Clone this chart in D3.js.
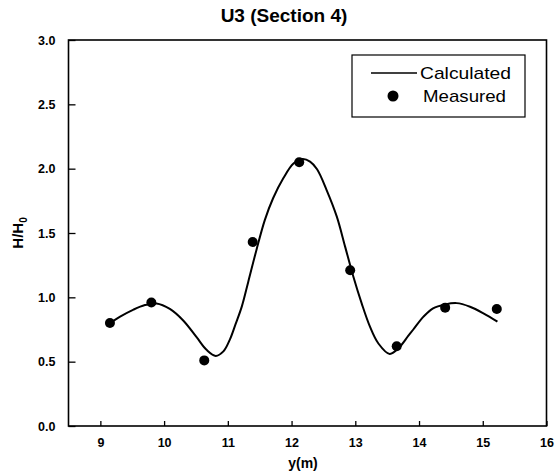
<!DOCTYPE html>
<html>
<head>
<meta charset="utf-8">
<script src="https://cdn.jsdelivr.net/npm/d3@7"></script>
<style>
  body { margin: 0; background: #fff; }
  svg { font-family: "Liberation Sans", Arial, sans-serif; }
</style>
</head>
<body>
<div id="chart"></div>
<script>
// measured points
const measX = [9.15, 9.8, 10.63, 11.39, 12.12, 12.92, 13.65, 14.41, 15.22];
const measY = [0.80, 0.96, 0.51, 1.43, 2.05, 1.21, 0.62, 0.92, 0.91];

// calculated curve
const calcX = [9.15, 9.31, 9.52, 9.70, 9.88, 10.09, 10.30, 10.51, 10.67, 10.81, 10.93, 11.03, 11.12,
  11.22, 11.32, 11.45, 11.58, 11.71, 11.87, 12.03, 12.17, 12.29, 12.40, 12.55, 12.71, 12.84, 12.97,
  13.10, 13.23, 13.36, 13.54, 13.70, 13.83, 13.91, 14.07, 14.22, 14.41, 14.59, 14.80, 15.01, 15.23];
const calcY = [0.80, 0.85, 0.905, 0.94, 0.952, 0.91, 0.82, 0.69, 0.59, 0.545, 0.58, 0.67, 0.79,
  0.93, 1.12, 1.37, 1.60, 1.77, 1.925, 2.04, 2.075, 2.055, 1.995, 1.834, 1.627, 1.394, 1.16,
  0.953, 0.772, 0.643, 0.56, 0.617, 0.70, 0.75, 0.85, 0.915, 0.945, 0.955, 0.927, 0.876, 0.811];

const xTicks = [9, 10, 11, 12, 13, 14, 15, 16];
const yTicks = [0.0, 0.5, 1.0, 1.5, 2.0, 2.5, 3.0];

const width = 557, height = 476;
const margin = { top: 40, right: 10.5, bottom: 50, left: 68.5 };

const svg = d3.select("#chart")
  .append("svg")
  .attr("width", width)
  .attr("height", height);

const x = d3.scaleLinear().domain([8.5, 16]).range([margin.left, width - margin.right]);
const y = d3.scaleLinear().domain([0, 3]).range([height - margin.bottom, margin.top]);

//frame
svg.append("rect")
  .attr("x", x(8.5))
  .attr("y", y(3))
  .attr("width", x(16) - x(8.5))
  .attr("height", y(0) - y(3))
  .attr("fill", "none")
  .attr("stroke", "#000")
  .attr("stroke-width", 1.6);

//axes
const xAxis = svg.append("g")
  .attr("transform", `translate(0,${y(0)})`)
  .call(d3.axisBottom(x).tickValues(xTicks).tickSize(-5).tickPadding(12).tickFormat(d3.format("d")));

const yAxis = svg.append("g")
  .attr("transform", `translate(${x(8.5)},0)`)
  .call(d3.axisLeft(y).tickValues(yTicks).tickSize(-7).tickPadding(13).tickFormat(d3.format(".1f")));

[xAxis, yAxis].forEach((g) => {
  g.select(".domain").remove();
  g.selectAll("line").attr("stroke", "#000").attr("stroke-width", 1.3);
  g.selectAll("text")
    .attr("fill", "#000")
    .style("font-size", "12.5px")
    .style("font-weight", "bold")
    .style("font-family", "'Liberation Sans', Arial, sans-serif");
});

//title + labels
svg.append("text")
  .attr("x", 284)
  .attr("y", 22)
  .attr("text-anchor", "middle")
  .style("font-size", "19px")
  .style("font-weight", "bold")
  .text("U3 (Section 4)");

svg.append("text")
  .attr("x", 303)
  .attr("y", 468)
  .attr("text-anchor", "middle")
  .style("font-size", "14px")
  .style("font-weight", "bold")
  .text("y(m)");

const yt = svg.append("text")
  .attr("transform", `translate(23,${(y(0) + y(3)) / 2}) rotate(-90)`)
  .attr("text-anchor", "middle")
  .style("font-size", "15px")
  .style("font-weight", "bold");
yt.append("tspan").text("H/H");
yt.append("tspan").attr("dy", 4).style("font-size", "10px").text("0");

//calculated line
const calc = calcX.map((d, i) => ({ x: d, y: calcY[i] }));
svg.append("path")
  .datum(calc)
  .attr("fill", "none")
  .attr("stroke", "#000")
  .attr("stroke-width", 2)
  .attr("d", d3.line().curve(d3.curveCatmullRom).x((d) => x(d.x)).y((d) => y(d.y)));

//measured dots
svg.append("g")
  .selectAll("circle")
  .data(measX.map((d, i) => ({ x: d, y: measY[i] })))
  .join("circle")
  .attr("cx", (d) => x(d.x))
  .attr("cy", (d) => y(d.y))
  .attr("r", 5)
  .attr("fill", "#000");

//legend
const lg = svg.append("g");
lg.append("rect")
  .attr("x", 352)
  .attr("y", 55)
  .attr("width", 173)
  .attr("height", 62)
  .attr("fill", "#fff")
  .attr("stroke", "#000")
  .attr("stroke-width", 1.2);
lg.append("line")
  .attr("x1", 371).attr("x2", 417)
  .attr("y1", 73).attr("y2", 73)
  .attr("stroke", "#000")
  .attr("stroke-width", 1.5);
lg.append("text")
  .attr("x", 420)
  .attr("y", 79)
  .style("font-size", "17px")
  .attr("textLength", 91)
  .attr("lengthAdjust", "spacingAndGlyphs")
  .text("Calculated");
lg.append("circle")
  .attr("cx", 393)
  .attr("cy", 96)
  .attr("r", 5.5)
  .attr("fill", "#000");
lg.append("text")
  .attr("x", 423)
  .attr("y", 102)
  .style("font-size", "17px")
  .attr("textLength", 83)
  .attr("lengthAdjust", "spacingAndGlyphs")
  .text("Measured");
</script>
</body>
</html>
